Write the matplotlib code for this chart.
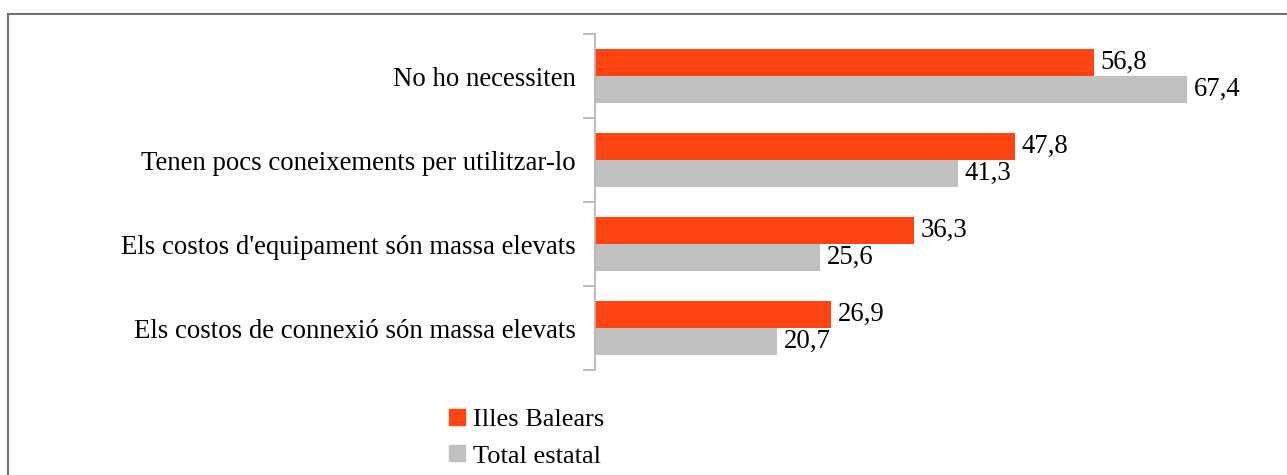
import numpy as np
import matplotlib.pyplot as plt
from matplotlib.lines import Line2D
from matplotlib.patches import Rectangle

categories = ["No ho necessiten",
              "Tenen pocs coneixements per utilitzar-lo",
              "Els costos d'equipament són massa elevats",
              "Els costos de connexió són massa elevats"]
illes_balears = [56.8, 47.8, 36.3, 26.9]
total_estatal = [67.4, 41.3, 25.6, 20.7]
series_names = ["Illes Balears", "Total estatal"]

c_ib = "#ff4411"
c_te = "#c0c0c0"

plt.rcParams['font.family'] = ['Liberation Serif', 'DejaVu Serif']
fs = 19.3

W, H = 1287, 475
fig = plt.figure(figsize=(W / 100, H / 100), dpi=100)

# frame round the chart
fig.patches.append(Rectangle((8 / W, -0.1), 1.2, 1 - 14 / H + 0.1, transform=fig.transFigure,
                             fill=False, edgecolor="#707070", linewidth=1.5))

x0, x1 = 595, 1253.5
y0, y1 = 34, 370
ax = fig.add_axes([x0 / W, 1 - y1 / H, (x1 - x0) / W, (y1 - y0) / H])

y = np.arange(len(categories))
h = 0.327
b1 = ax.barh(y - h / 2, illes_balears, height=h, color=c_ib)
b2 = ax.barh(y + h / 2, total_estatal, height=h, color=c_te)

fmt = lambda v: f"{v:.1f}".replace(".", ",")
ax.bar_label(b1, labels=[fmt(v) for v in illes_balears], padding=5, fontsize=fs)
ax.bar_label(b2, labels=[fmt(v) for v in total_estatal], padding=5, fontsize=fs)

ax.set_xlim(0, 75)
ax.set_ylim(len(categories) - 0.5, -0.5)

ax.set_yticks(y)
ax.set_yticklabels(categories, fontsize=fs)
ax.set_yticks(np.arange(len(categories) + 1) - 0.5, minor=True)
ax.tick_params(axis='y', which='major', length=0, pad=14)
ax.tick_params(axis='y', which='minor', length=8.6, width=1.2, color="#b3b3b3")
ax.set_xticks([])
for s in ["top", "right", "bottom"]:
    ax.spines[s].set_visible(False)
ax.spines["left"].set_color("#b3b3b3")
ax.spines["left"].set_linewidth(1.2)

handles = [Line2D([], [], marker='s', linestyle='none', markersize=11.3, color=c_ib),
           Line2D([], [], marker='s', linestyle='none', markersize=11.3, color=c_te)]
fig.legend(handles, series_names, loc='upper left', bbox_to_anchor=(433 / W, 1 - 397 / H),
           frameon=False, fontsize=19, handletextpad=0.1, labelspacing=0.5,
           handlelength=1.0, borderaxespad=0)

fig.savefig("out.png", dpi=100)
